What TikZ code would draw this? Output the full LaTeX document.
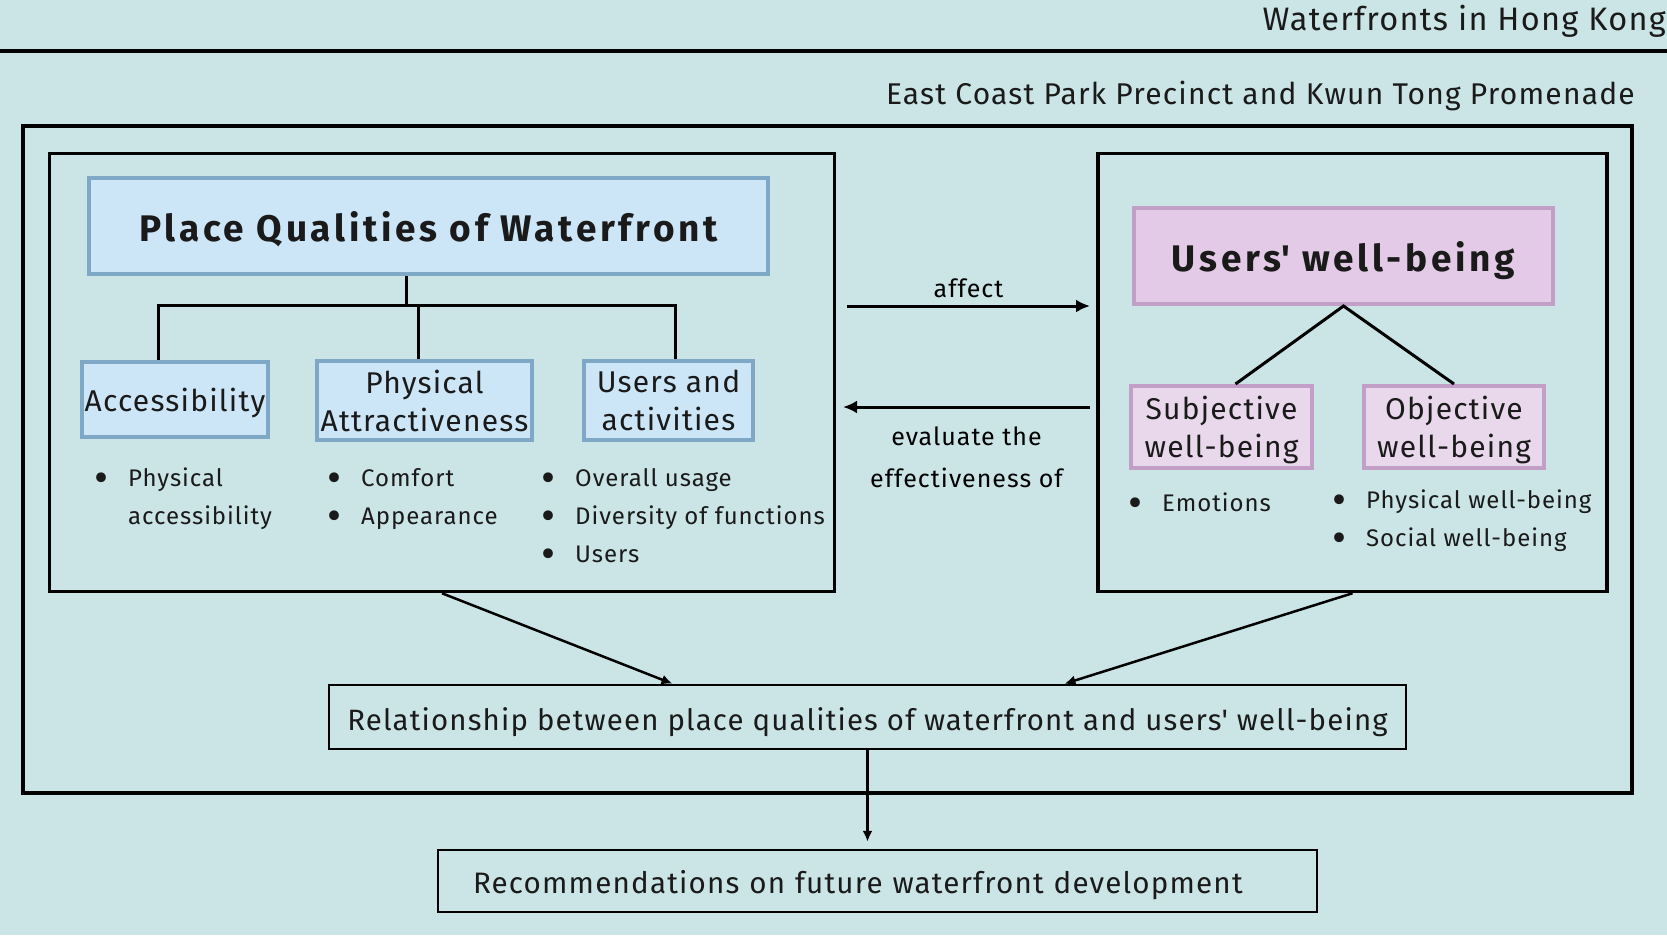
\documentclass[tikz,border=0pt]{standalone}
\usepackage{fontspec}
\setmainfont{Fira Sans}[LetterSpace=4]
\usetikzlibrary{arrows.meta}

\definecolor{bgteal}{HTML}{CBE5E6}
\definecolor{qualfill}{HTML}{CCE6F7}
\definecolor{qualline}{HTML}{7FA8C6}
\definecolor{wellfill}{HTML}{E3CAE6}
\definecolor{wellline}{HTML}{C19FC6}
\definecolor{subfill}{HTML}{E9D7EC}
\definecolor{inkgray}{HTML}{1A1A1A}

\newcommand{\dotmark}{\smash{\raisebox{-6pt}{\scalebox{1.8}{\textbullet}}}}
\newcommand{\itm}[1]{\makebox[34pt][l]{\dotmark}#1}
\newcommand{\cnt}[1]{\hspace*{34pt}#1}

\tikzset{
    bluebox/.style={draw=qualline, fill=qualfill, line width=4pt, inner sep=0pt, align=center, text depth=0pt},
    pinkbox/.style={draw=wellline, fill=wellfill, line width=4pt, inner sep=0pt, align=center, text depth=0pt},
    plainbox/.style={draw=black, line width=2.5pt, inner sep=0pt},
    panel/.style={draw=black, line width=3.5pt, inner sep=0pt},
    link/.style={black, line width=3pt},
    arr/.style={link, -{Latex[length=14pt,width=13pt]}},
    itemlist/.style={inner sep=0pt, align=left, anchor=north west, font=\fontsize{24}{38}\selectfont},
    boxlabel/.style={font=\fontsize{30}{38}\selectfont},
    titlelabel/.style={font=\fontsize{37}{40}\selectfont\bfseries\addfontfeatures{LetterSpace=10}},
}

\begin{document}
\begin{tikzpicture}[x=1pt, y=-1pt, text=inkgray]
    \fill[bgteal] (0,0) rectangle (1667,935);
    \useasboundingbox (0,0) rectangle (1667,935);

    \draw[black, line width=4pt] (0,51) -- (1667,51);
    \node[anchor=base east, inner sep=0pt, font=\fontsize{32.5}{36}\selectfont] (hktitle) at (1666,30) {Waterfronts in Hong Kong};
    \node[anchor=base east, inner sep=0pt, font=\fontsize{30}{36}\selectfont] (sites) at (1635,104) {East Coast Park Precinct and Kwun Tong Promenade};

    \draw[black, line width=4pt] (23,126) rectangle (1632,793);
    \node[panel, minimum width=785, minimum height=438] (lpanel) at (442,372.5) {};
    \node[panel, minimum width=509, minimum height=438] (rpanel) at (1352.5,372.5) {};

    % place qualities
    \node[bluebox, titlelabel, minimum width=679, minimum height=96] (place) at (428.5,226) {Place Qualities of Waterfront};
    \node[bluebox, boxlabel, minimum width=186, minimum height=75] (acc) at (175,399.5) {Accessibility};
    \node[bluebox, boxlabel, minimum width=215, minimum height=79] (phys) at (424.5,400.5) {Physical\\Attractiveness};
    \node[bluebox, boxlabel, minimum width=169, minimum height=79] (usract) at (668.5,400.5) {Users and\\activities};

    \coordinate (qjoin) at (406,307);
    \draw[link] (place.south -| qjoin) -- (qjoin);
    \draw[link] ([xshift=-17pt]acc.north) -- ++(0,-55) -| ([xshift=7pt]usract.north);
    \draw[link] ([xshift=-6pt]phys.north) -- ++(0,-54);

    \node[itemlist] (acclist) at (94,468) {\itm{Physical}\\\cnt{accessibility}};
    \node[itemlist] (physlist) at (327,468) {\itm{Comfort}\\\itm{Appearance}};
    \node[itemlist] (usrlist) at (541,468) {\itm{Overall usage}\\\itm{Diversity of functions}\\\itm{Users}};

    % well-being
    \node[pinkbox, titlelabel, minimum width=419, minimum height=96] (wellb) at (1343.5,256) {Users\textquotesingle{} well-being};
    \node[pinkbox, boxlabel, fill=subfill, text depth=-3pt, minimum width=181, minimum height=82] (subj) at (1221.5,427) {Subjective\\well-being};
    \node[pinkbox, boxlabel, fill=subfill, text depth=-3pt, minimum width=180, minimum height=82] (obj) at (1454,427) {Objective\\well-being};

    \draw[link] ([xshift=14pt]subj.north) -- (wellb.south) -- (obj.north);

    \node[itemlist] (subjlist) at (1128,493) {\itm{Emotions}};
    \node[itemlist] (objlist) at (1332,490) {\itm{Physical well-being}\\\itm{Social well-being}};

    % between the panels
    \coordinate (affL) at (847,306);
    \coordinate (affR) at (1090,306);
    \coordinate (evaR) at (1090,407);
    \coordinate (evaL) at (843,407);
    \draw[arr] (affL) -- node[above, inner sep=7pt, font=\fontsize{25}{42}\selectfont] (afftxt) {affect} (affR);
    \draw[arr] (evaR) -- node[below, inner sep=0pt, yshift=-18pt, align=center, font=\fontsize{25}{42}\selectfont] (evatxt) {evaluate the\\effectiveness of} (evaL);

    % results
    \node[plainbox, minimum width=1077, minimum height=64, text height=26pt, text depth=0pt, font=\fontsize{29.4}{36}\selectfont] (rel) at (867.5,717) {Relationship between place qualities of waterfront and users\textquotesingle{} well-being};
    \node[plainbox, minimum height=62, text width=809, inner xsep=35pt, text height=24pt, text depth=0pt, align=left, font=\fontsize{29.6}{36}\selectfont] (recom) at (877.5,881) {Recommendations on future waterfront development};

    \draw[arr, line width=2.5pt, -{Latex[length=11pt,width=10pt]}] (lpanel.south) -- ([xshift=-195pt]rel.north);
    \draw[arr, line width=2.5pt, -{Latex[length=11pt,width=10pt]}] (rpanel.south) -- ([xshift=197pt]rel.north);
    \draw[arr, line width=2.5pt, -{Latex[length=11pt,width=10pt]}] (rel.south) -- ([yshift=7pt]rel.south |- recom.north);
\end{tikzpicture}
\end{document}
